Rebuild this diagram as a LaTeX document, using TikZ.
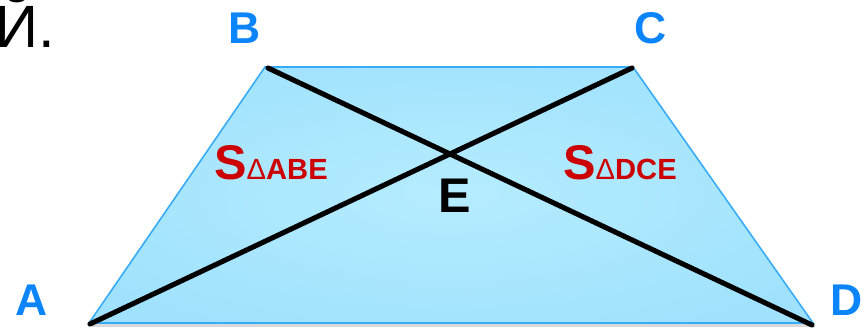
\documentclass[tikz,border=0pt]{standalone}
\usepackage{fontspec}
\setmainfont{Liberation Sans}
\usetikzlibrary{calc}

\definecolor{vertexblue}{RGB}{12,132,250}
\definecolor{areared}{RGB}{204,0,0}
\definecolor{trapfill}{RGB}{135,216,254}
\definecolor{trapmid}{RGB}{160,226,254}
\definecolor{trapcenter}{RGB}{182,236,254}
\definecolor{trapedge}{RGB}{55,172,245}

\pgfdeclareradialshading{trapglow}{\pgfpoint{0bp}{0bp}}{%
  color(0bp)=(trapcenter); color(30bp)=(trapmid); color(50bp)=(trapmid); color(70bp)=(trapfill)}

\newcommand{\subfont}{\fontsize{16.6}{17}\selectfont}

\begin{document}
\begin{tikzpicture}[
        x=0.02cm, y=-0.02cm,
        % Define styles for the labels and lines
        vertex_label/.style={text=vertexblue, inner sep=0pt, font=\bfseries\fontsize{25.3}{26}\selectfont},
        area_label/.style={text=areared, inner sep=0pt, anchor=base, font=\bfseries\fontsize{27.7}{28}\selectfont},
        diagonal/.style={line width=2.9pt, line cap=round}
    ]

    \useasboundingbox (0,0) rectangle (865,330);

    % === Corner points of the trapezium ===
    \coordinate (A) at (89,323);
    \coordinate (B) at (265,67);
    \coordinate (C) at (633,67);
    \coordinate (D) at (813,323);

    % Soft shadow, then the filled trapezium
    \fill [black!15] ($(A)+(2,4)$) -- ($(B)+(2,4)$) -- ($(C)+(2,4)$) -- ($(D)+(2,4)$) -- cycle;
    \shade [shading=trapglow] (A) -- (B) -- (C) -- (D) -- cycle;
    \draw [trapedge, line width=0.9pt, line join=miter] (A) -- (B) -- (C) -- (D) -- cycle;

    % Diagonals
    \draw [diagonal] ($(A)+(1,1)$) -- ($(C)+(-1,1)$);
    \draw [diagonal] ($(B)+(3,1)$) -- ($(D)+(-1,2)$);

    % Vertex labels
    \node (lblB) [vertex_label] at (245,28) {B};
    \node (lblC) [vertex_label] at (651,28) {C};
    \node (lblA) [vertex_label] at (32,300) {A};
    \node (lblD) [vertex_label] at (847,300) {D};

    % Intersection label
    \node (lblE) [vertex_label, text=black, font=\bfseries\fontsize{27.7}{28}\selectfont] at (455,196) {E};

    % Area labels
    \node (areaABE) [area_label] at (271,180) {S{\mdseries\subfont Δ}{\subfont ABE}};
    \node (areaDCE) [area_label] at (620,180) {S{\mdseries\subfont Δ}{\subfont DCE}};

    % Cut-off text at the corner
    \node (cutoff) [anchor=base west, inner sep=0pt, font=\fontsize{34}{35}\selectfont] at (-5,48) {Й.};

\end{tikzpicture}
\end{document}
